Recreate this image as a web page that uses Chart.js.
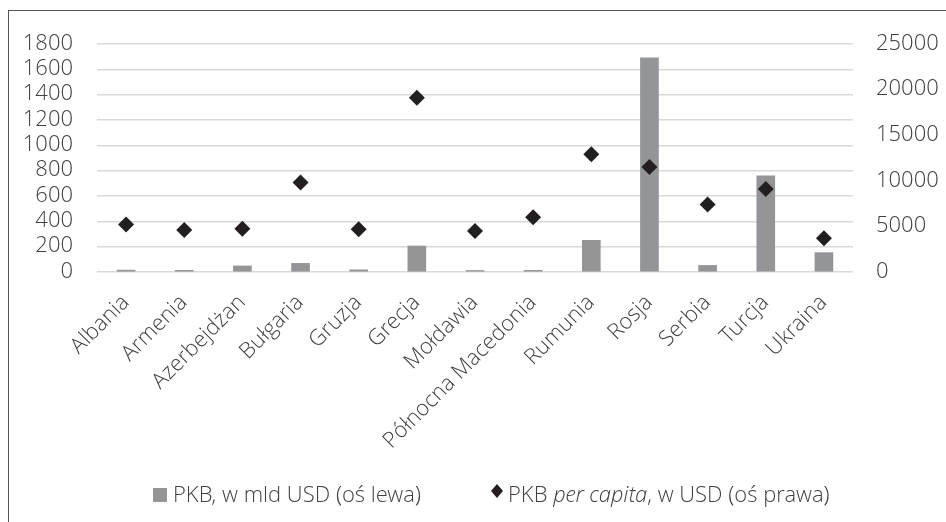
<!DOCTYPE html>
<html lang="pl">
<head>
<meta charset="utf-8">
<script src="https://cdn.jsdelivr.net/npm/chart.js@4/dist/chart.umd.min.js"></script>
<style>
  html, body { margin: 0; padding: 0; background: #fff; }
  #wrap { position: relative; width: 946px; height: 522px; overflow: hidden; }
  #frame { position: absolute; left: 8px; top: 10px; width: 960px; height: 540px;
           border-top: 1px solid #555; border-left: 1px solid #555; pointer-events: none; }
  canvas { position: absolute; left: 0; top: 0; }
</style>
</head>
<body>
<div id="wrap">
  <canvas id="c" width="946" height="522"></canvas>
  <div id="frame"></div>
</div>
<script>
// Kraje regionu
const countries = ['Albania', 'Armenia', 'Azerbejdżan', 'Bułgaria', 'Gruzja', 'Grecja', 'Mołdawia',
  'Północna Macedonia', 'Rumunia', 'Rosja', 'Serbia', 'Turcja', 'Ukraina'];
// PKB, mld USD (oś lewa)
const gdpBn = [15, 13, 48, 68, 17, 205, 12, 13, 250, 1690, 52, 760, 153];
// PKB per capita, USD (oś prawa)
const gdpPerCapita = [5200, 4600, 4750, 9800, 4700, 19100, 4500, 6000, 12900, 11500, 7400, 9100, 3700];
// Zakresy osi
const leftAxis = { min: 0, max: 1800, step: 200 };
const rightAxis = { min: 0, max: 25000, step: 5000 };
// Opisy legendy
const legendBar = 'PKB, w mld USD (oś lewa)';
const legendPoint = ['PKB ', 'per capita', ', w USD (oś prawa)'];

const FONT = "'Open Sans Light', 'Open Sans', 'Noto Sans', sans-serif";
const TEXT = '#404040';
const BAR = '#939598';
const MARK = '#231f20';
const SIZE = 22;

// Legenda rysowana ręcznie (kursywa w środku opisu)
const legendPlugin = {
  id: 'mixedLegend',
  afterDraw(chart) {
    const ctx = chart.ctx;
    ctx.save();
    ctx.textBaseline = 'alphabetic';
    ctx.fillStyle = BAR;
    ctx.fillRect(153, 488, 14, 14);
    ctx.fillStyle = TEXT;
    ctx.font = `300 ${SIZE}px ${FONT}`;
    ctx.fillText(legendBar, 173, 502);

    ctx.fillStyle = MARK;
    ctx.beginPath();
    ctx.moveTo(497, 484); ctx.lineTo(503, 491); ctx.lineTo(497, 498); ctx.lineTo(491, 491);
    ctx.closePath(); ctx.fill();

    let x = 508;
    ctx.fillStyle = TEXT;
    legendPoint.forEach((part, i) => {
      ctx.font = (i === 1 ? 'italic ' : '') + `300 ${SIZE}px ${FONT}`;
      ctx.fillText(part, x, 502);
      x += ctx.measureText(part).width;
    });
    ctx.restore();
  }
};

const plain = (v) => String(v);

new Chart(document.getElementById('c'), {
  type: 'bar',
  data: {
    labels: countries,
    datasets: [
      {
        type: 'line',
        label: 'PKB per capita, w USD (oś prawa)',
        data: gdpPerCapita,
        yAxisID: 'y2',
        showLine: false,
        pointStyle: 'rectRot',
        pointRadius: 8,
        pointHoverRadius: 8,
        pointBackgroundColor: MARK,
        pointBorderColor: MARK,
        pointBorderWidth: 0,
        order: 0
      },
      {
        type: 'bar',
        label: 'PKB, w mld USD (oś lewa)',
        data: gdpBn,
        yAxisID: 'y',
        backgroundColor: BAR,
        borderWidth: 0,
        barThickness: 18,
        order: 1
      }
    ]
  },
  options: {
    responsive: false,
    animation: false,
    layout: { padding: { left: 0, right: 0, top: 44, bottom: 0 } },
    plugins: { legend: { display: false }, tooltip: { enabled: false } },
    scales: {
      x: {
        offset: true,
        grid: { display: false, drawTicks: false },
        border: { display: false },
        ticks: {
          autoSkip: false, minRotation: 45, maxRotation: 45, padding: 18,
          color: TEXT, font: { family: FONT, size: SIZE, weight: 300 }
        },
        afterFit(s) { s.height = 250; }
      },
      y: {
        position: 'left',
        min: leftAxis.min, max: leftAxis.max,
        grid: { color: '#d9d9d9', lineWidth: 1.5, drawTicks: false },
        border: { display: false },
        ticks: {
          stepSize: leftAxis.step, autoSkip: false, padding: 24, callback: plain,
          color: TEXT, font: { family: FONT, size: SIZE, weight: 300 }
        },
        afterFit(s) { s.width = 97; }
      },
      y2: {
        position: 'right',
        min: rightAxis.min, max: rightAxis.max,
        grid: { display: false, drawTicks: false },
        border: { display: false },
        ticks: {
          stepSize: rightAxis.step, autoSkip: false, padding: 23, callback: plain,
          color: TEXT, font: { family: FONT, size: SIZE, weight: 300 }
        },
        afterFit(s) { s.width = 93; }
      }
    }
  },
  plugins: [legendPlugin]
});
</script>
</body>
</html>
